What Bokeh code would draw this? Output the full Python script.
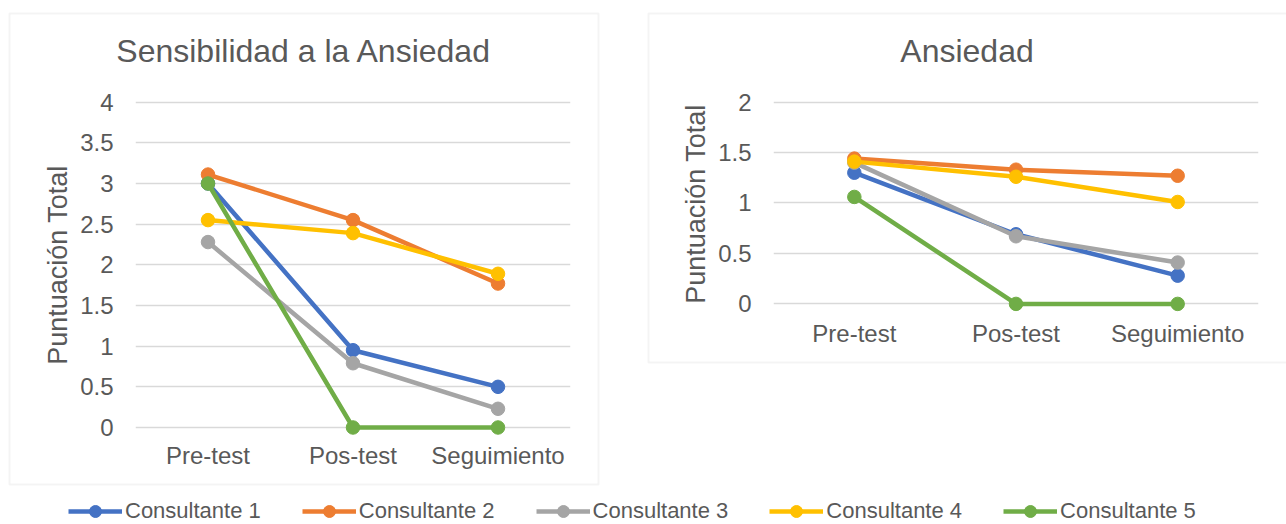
from bokeh.plotting import figure
from bokeh.models import (FactorRange, Range1d, FixedTicker, NumeralTickFormatter,
                          Legend, LegendItem, BoxAnnotation, Label)
from bokeh.layouts import row, column
from bokeh.embed import file_html
from bokeh.resources import INLINE

# ---- data ----
stages = ["Pre-test", "Pos-test", "Seguimiento"]
names = ["Consultante 1", "Consultante 2", "Consultante 3", "Consultante 4", "Consultante 5"]
colors = ["#4472C4", "#ED7D31", "#A5A5A5", "#FFC000", "#70AD47"]
titles = ["Sensibilidad a la Ansiedad", "Ansiedad"]

# Sensibilidad a la Ansiedad
sa_c1 = [3.00, 0.95, 0.50]
sa_c2 = [3.11, 2.55, 1.77]
sa_c3 = [2.28, 0.79, 0.23]
sa_c4 = [2.55, 2.39, 1.89]
sa_c5 = [3.00, 0.00, 0.00]

# Ansiedad
an_c1 = [1.30, 0.69, 0.28]
an_c2 = [1.44, 1.33, 1.27]
an_c3 = [1.40, 0.67, 0.41]
an_c4 = [1.41, 1.26, 1.01]
an_c5 = [1.06, 0.00, 0.00]

sa_ticks = [0, 0.5, 1, 1.5, 2, 2.5, 3, 3.5, 4]
an_ticks = [0, 0.5, 1, 1.5, 2]

TEXT = "#595959"
GRID = "#D9D9D9"
FONT = "Liberation Sans"

PAGE_W, PAGE_H = 1286, 524
TOP = 12
LEFT_X, LEFT_W, LEFT_H = 8, 591, 473
GAP = 48
RIGHT_W, RIGHT_H = 639, 351
TITLE_Y = 50                 # title anchor, px from page top


def make_chart(series, ticks, y_lo, y_hi, width, height, borders, margin):
    left, right, top, bottom = borders
    p = figure(x_range=FactorRange(*stages, range_padding=0),
               y_range=Range1d(y_lo, y_hi),
               width=width, height=height, margin=margin,
               output_backend="svg", toolbar_location=None,
               min_border_left=left, min_border_right=right,
               min_border_top=top, min_border_bottom=bottom)
    p.outline_line_color = None
    p.background_fill_color = "white"
    p.border_fill_color = "white"

    p.xgrid.visible = False
    p.ygrid.ticker = FixedTicker(ticks=ticks)
    p.ygrid.grid_line_color = GRID
    p.ygrid.grid_line_width = 1.5

    for ax in (p.xaxis[0], p.yaxis[0]):
        ax.axis_line_color = None
        ax.major_tick_line_color = None
        ax.minor_tick_line_color = None
        ax.major_tick_in = 0
        ax.major_tick_out = 0
        ax.major_label_text_font = FONT
        ax.major_label_text_font_size = "24px"
        ax.major_label_text_color = TEXT

    p.xaxis.major_label_standoff = 4
    p.yaxis.ticker = FixedTicker(ticks=ticks)
    p.yaxis.formatter = NumeralTickFormatter(format="0.[0]")
    p.yaxis.major_label_standoff = 22
    p.yaxis.axis_label = "Puntuación Total"
    p.yaxis.axis_label_text_font = FONT
    p.yaxis.axis_label_text_font_size = "27px"
    p.yaxis.axis_label_text_font_style = "normal"
    p.yaxis.axis_label_text_color = TEXT
    p.yaxis.axis_label_standoff = 4

    for vals, c in zip(series, colors):
        p.line(stages, vals, line_color=c, line_width=4.5,
               line_join="round", line_cap="round")
        p.scatter(stages, vals, size=13.5, fill_color=c, line_color=c)
    return p


left_chart = make_chart([sa_c1, sa_c2, sa_c3, sa_c4, sa_c5], sa_ticks,
                        -0.123, 4.119, LEFT_W, LEFT_H, (127, 29, 80, 48),
                        (TOP, 0, 0, LEFT_X))
right_chart = make_chart([an_c1, an_c2, an_c3, an_c4, an_c5], an_ticks,
                         -0.115, 2.095, RIGHT_W, RIGHT_H, (126, 28, 80, 46),
                         (TOP, 0, 0, GAP))

# ---- transparent overlay: chart-area frames, titles and the shared legend ----
row_h = TOP + LEFT_H
ov = figure(width=PAGE_W, height=PAGE_H, x_range=Range1d(0, 1), y_range=Range1d(0, 1),
            margin=(-row_h, 0, 0, 0),
            output_backend="svg", toolbar_location=None,
            min_border_left=0, min_border_right=0, min_border_top=0, min_border_bottom=0)
ov.axis.visible = False
ov.grid.visible = False
ov.outline_line_color = None
ov.background_fill_alpha = 0
ov.border_fill_alpha = 0

right_x = LEFT_X + LEFT_W + GAP
boxes = [(LEFT_X, LEFT_X + LEFT_W, TOP, TOP + LEFT_H),
         (right_x, right_x + RIGHT_W + 6, TOP, TOP + RIGHT_H)]
for (x0, x1, y0, y1), ttl in zip(boxes, titles):
    ov.add_layout(BoxAnnotation(left=x0 + 1, right=x1 - 1, top=y0 + 1, bottom=y1 - 1,
                                left_units="canvas", right_units="canvas",
                                top_units="canvas", bottom_units="canvas",
                                fill_alpha=0, line_color=GRID, line_width=2))
    ov.add_layout(Label(x=(x0 + min(x1, PAGE_W)) / 2, y=PAGE_H - TITLE_Y,
                        x_units="screen", y_units="screen", text=ttl,
                        text_align="center", text_baseline="middle",
                        text_font=FONT, text_font_size="32px", text_color=TEXT))

nan = float("nan")
items = []
for name, c in zip(names, colors):
    lr = ov.line(x=[nan], y=[nan], line_color=c, line_width=4.5)
    sr = ov.scatter(x=[nan], y=[nan], size=12, fill_color=c, line_color=c)
    items.append(LegendItem(label=name, renderers=[lr, sr]))

legend = Legend(items=items, orientation="horizontal", location=(68, -2),
                glyph_width=54, glyph_height=30, label_standoff=3, spacing=41,
                padding=0, margin=0, border_line_color=None,
                background_fill_alpha=0,
                label_text_font=FONT, label_text_font_size="22px",
                label_text_color=TEXT)
ov.add_layout(legend)

layout = column(row(left_chart, right_chart), ov)

open("out.html", "w").write(file_html(layout, INLINE))
